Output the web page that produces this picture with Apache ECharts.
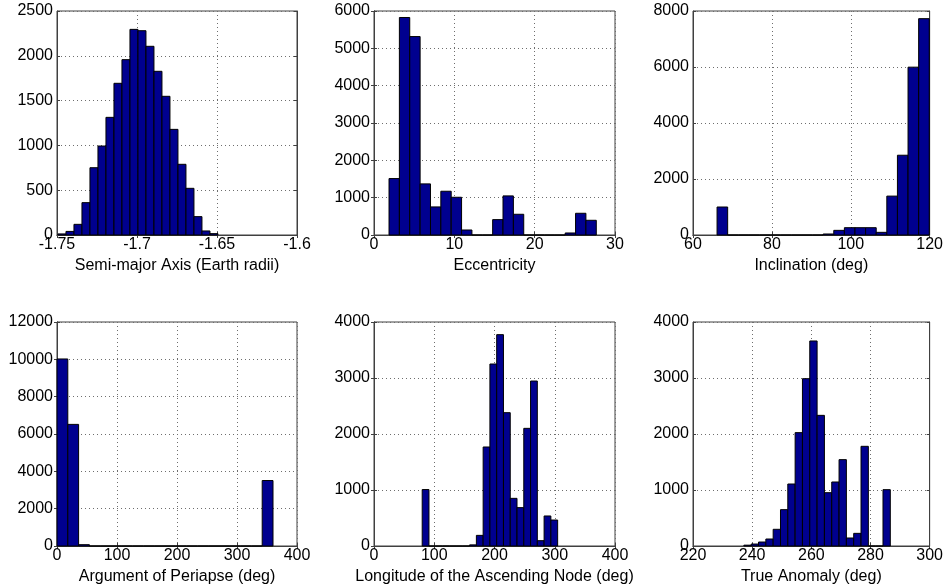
<!DOCTYPE html>
<html>
<head>
<meta charset="utf-8">
<script src="https://cdn.jsdelivr.net/npm/echarts@6/dist/echarts.min.js"></script>
<style>
html,body{margin:0;padding:0;background:#fff;}
#chart{width:946px;height:587px;}
</style>
</head>
<body>
<div id="chart"></div>
<script>
// ---- Data (histogram counts, 20 equal-width bins between range ends) ----
const semiRange = [-1.7494, -1.6494];
const semiCounts = [12, 40, 119, 361, 751, 993, 1313, 1693, 1957, 2295, 2280, 2106, 1827, 1548, 1179, 789, 521, 205, 45, 15];

const eccRange = [1.87, 27.67];
const eccCounts = [1512, 5826, 5315, 1369, 752, 1172, 1011, 134, 0, 0, 412, 1047, 555, 0, 0, 0, 0, 54, 582, 394];

const incRange = [66.1, 119.9];
const incCounts = [1000, 0, 0, 0, 0, 0, 0, 0, 0, 0, 36, 166, 261, 261, 261, 95, 1389, 2849, 5994, 7727];

const argRange = [0, 360];
const argCounts = [10020, 6515, 70, 0, 0, 0, 0, 0, 0, 0, 0, 0, 0, 0, 0, 0, 0, 0, 0, 3508];

const lanRange = [80, 304.8];
const lanCounts = [1008, 0, 0, 0, 0, 0, 0, 20, 190, 1768, 3250, 3774, 2381, 851, 685, 2101, 2946, 95, 536, 464];

const taRange = [237.2, 286.7];
const taCounts = [15, 35, 71, 125, 298, 649, 1107, 2024, 2988, 3661, 2333, 952, 1143, 1542, 143, 226, 1780, 0, 0, 1006];

// axis labels and tick settings
const xNames = ['Semi-major Axis (Earth radii)', 'Eccentricity', 'Inclination (deg)',
                'Argument of Periapse (deg)', 'Longitude of the Ascending Node (deg)', 'True Anomaly (deg)'];
const xMin = [-1.75, 0, 60, 0, 0, 220];
const xMax = [-1.6, 30, 120, 400, 400, 300];
const xStep = [0.05, 10, 20, 100, 100, 20];
const yMax = [2500, 6000, 8000, 12000, 4000, 4000];
const yStep = [500, 1000, 2000, 2000, 1000, 1000];

const ranges = [semiRange, eccRange, incRange, argRange, lanRange, taRange];
const counts = [semiCounts, eccCounts, incCounts, argCounts, lanCounts, taCounts];

// ---- Layout ----
const FONT = '"Liberation Sans", Arial, Helvetica, sans-serif';
const lefts = [57, 374, 693];
const widths = [240, 241, 240];
const tops = [11, 322];
const H = 224;
const BOX = '#404040';
const GRIDC = '#6e6e6e';
const BARC = '#00008f';

function bins(range, cnt) {
  const n = cnt.length, w = (range[1] - range[0]) / n;
  return cnt.map((c, i) => [range[0] + i * w, range[0] + (i + 1) * w, c]);
}

function fmt(v) { return String(+v.toFixed(3)); }

const grids = [], xAxes = [], yAxes = [], series = [];
for (let p = 0; p < 6; p++) {
  const r = Math.floor(p / 3), c = p % 3;
  grids.push({ left: lefts[c], top: tops[r], width: widths[c], height: H,
    show: true, borderColor: BOX, borderWidth: 1, backgroundColor: '#fff' });
  // bottom x
  xAxes.push({ type: 'value', gridIndex: p, min: xMin[p], max: xMax[p], interval: xStep[p],
    name: xNames[p], nameLocation: 'middle', nameGap: 23,
    nameTextStyle: { color: '#000', fontSize: 16, fontFamily: FONT },
    axisLine: { show: true, lineStyle: { color: BOX } },
    axisTick: { show: true, inside: true, length: 3, lineStyle: { color: BOX } },
    axisLabel: { color: '#000', fontSize: 16, fontFamily: FONT, margin: 2, formatter: fmt, hideOverlap: false, showMinLabel: true, showMaxLabel: true },
    splitLine: { show: true, lineStyle: { color: GRIDC, type: [1, 3], width: 1 } }
  });
  // top x (ticks only)
  xAxes.push({ type: 'value', gridIndex: p, position: 'top', min: xMin[p], max: xMax[p], interval: xStep[p],
    axisLine: { show: true, lineStyle: { color: BOX } },
    axisTick: { show: true, inside: true, length: 3, lineStyle: { color: BOX } },
    axisLabel: { show: false }, splitLine: { show: false }
  });
  // left y
  yAxes.push({ type: 'value', gridIndex: p, min: 0, max: yMax[p], interval: yStep[p],
    axisLine: { show: true, lineStyle: { color: BOX } },
    axisTick: { show: true, inside: true, length: 3, lineStyle: { color: BOX } },
    axisLabel: { color: '#000', fontSize: 16, fontFamily: FONT, margin: 4, formatter: fmt, showMinLabel: true, showMaxLabel: true },
    splitLine: { show: true, lineStyle: { color: GRIDC, type: [1, 3], width: 1 } }
  });
  // right y (ticks only)
  yAxes.push({ type: 'value', gridIndex: p, position: 'right', min: 0, max: yMax[p], interval: yStep[p],
    axisLine: { show: true, lineStyle: { color: BOX } },
    axisTick: { show: true, inside: true, length: 3, lineStyle: { color: BOX } },
    axisLabel: { show: false }, splitLine: { show: false }
  });
  series.push({
    type: 'custom', xAxisIndex: 2 * p, yAxisIndex: 2 * p,
    data: bins(ranges[p], counts[p]),
    encode: { x: [0, 1], y: 2 },
    clip: false,
    renderItem: function (params, api) {
      const a = api.coord([api.value(0), api.value(2)]);
      const b = api.coord([api.value(1), 0]);
      return { type: 'rect',
        shape: { x: a[0], y: a[1], width: b[0] - a[0], height: b[1] - a[1] },
        style: { fill: BARC, stroke: '#000', lineWidth: 1 } };
    }
  });
}

const chart = echarts.init(document.getElementById('chart'), null, { renderer: 'canvas' });
chart.setOption({
  animation: false,
  backgroundColor: '#fff',
  grid: grids, xAxis: xAxes, yAxis: yAxes, series: series
});
</script>
</body>
</html>
